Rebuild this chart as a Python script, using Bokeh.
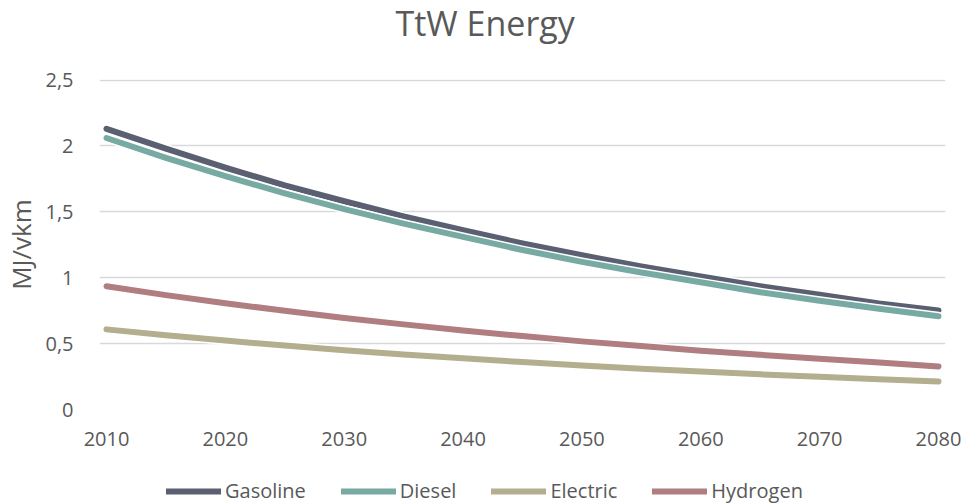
from bokeh.plotting import figure
from bokeh.models import Range1d, FixedTicker, Legend, LegendItem, Title
from bokeh.layouts import column
from bokeh.embed import file_html
from bokeh.resources import INLINE

years = [2010, 2015, 2020, 2025, 2030, 2035, 2040, 2045, 2050, 2055, 2060, 2065, 2070, 2075, 2080]
gasoline = [2.13, 1.98, 1.835, 1.70, 1.58, 1.465, 1.36, 1.26, 1.17, 1.085, 1.01, 0.935, 0.87, 0.805, 0.752]
diesel = [2.06, 1.91, 1.77, 1.64, 1.52, 1.41, 1.31, 1.21, 1.12, 1.04, 0.965, 0.89, 0.825, 0.765, 0.707]
electric = [0.608, 0.563, 0.523, 0.485, 0.45, 0.418, 0.388, 0.36, 0.334, 0.31, 0.288, 0.267, 0.248, 0.23, 0.213]
hydrogen = [0.935, 0.868, 0.806, 0.749, 0.695, 0.646, 0.60, 0.557, 0.517, 0.481, 0.446, 0.415, 0.385, 0.356, 0.327]

series_names = ["Gasoline", "Diesel", "Electric", "Hydrogen"]
series_values = [gasoline, diesel, electric, hydrogen]
series_colors = ["#5b5f72", "#77aaa2", "#b3ae8e", "#b07d80"]

y_ticks = [0, 0.5, 1, 1.5, 2, 2.5]
y_tick_labels = ["0", "0,5", "1", "1,5", "2", "2,5"]
x_ticks = [2010, 2020, 2030, 2040, 2050, 2060, 2070, 2080]

FONT = "Open Sans"
TXT = "#595959"
W = 965
LEG_H = 30

p = figure(width=W, height=504 - LEG_H, output_backend="svg", toolbar_location=None, title=None,
           x_range=Range1d(2009.41, 2080.59), y_range=Range1d(0, 2.504),
           min_border_left=97, min_border_right=20, min_border_top=79, min_border_bottom=504 - LEG_H - 409)
p.outline_line_color = None
p.background_fill_color = "white"
p.border_fill_color = "white"

# spacer between frame and title, then the title itself
title = Title(text="TtW Energy", align="left", offset=296, vertical_align="top",
              text_font=FONT, text_font_size="34px", text_font_style="normal",
              text_color=TXT, standoff=0)
spacer_standoff = 14
try:
    title.standoff = -10
    spacer_standoff = 24
except Exception:
    pass
p.add_layout(Title(text=" ", text_font_size="10px", standoff=spacer_standoff), "above")
p.add_layout(title, "above")

p.xgrid.grid_line_color = None
p.ygrid.grid_line_color = "#d9d9d9"
p.ygrid.grid_line_width = 1.3
p.ygrid.ticker = FixedTicker(ticks=y_ticks)

p.yaxis.ticker = FixedTicker(ticks=y_ticks)
p.yaxis.major_label_overrides = {t: l for t, l in zip(y_ticks, y_tick_labels)}
p.xaxis.ticker = FixedTicker(ticks=x_ticks)
for ax in (p.xaxis, p.yaxis):
    ax.axis_line_color = None
    ax.major_tick_line_color = None
    ax.minor_tick_line_color = None
    ax.major_label_text_font = FONT
    ax.major_label_text_font_size = "20px"
    ax.major_label_text_color = TXT
p.yaxis.major_label_standoff = 20
p.xaxis.major_label_standoff = 16
p.yaxis.axis_label = "MJ/vkm"
p.yaxis.axis_label_text_font = FONT
p.yaxis.axis_label_text_font_size = "26px"
p.yaxis.axis_label_text_font_style = "normal"
p.yaxis.axis_label_text_color = TXT
p.yaxis.axis_label_standoff = 3

for name, vals, col in zip(series_names, series_values, series_colors):
    p.line(years, vals, line_color="white", line_width=9, line_cap="round", line_join="round")
    p.line(years, vals, line_color=col, line_width=6, line_cap="round", line_join="round")

# legend strip below the chart
lg = figure(width=W, height=LEG_H, output_backend="svg", toolbar_location=None, title=None,
            x_range=Range1d(0, 1), y_range=Range1d(0, 1),
            min_border_left=0, min_border_right=0, min_border_top=0, min_border_bottom=0)
lg.axis.visible = False
lg.grid.visible = False
lg.outline_line_color = None
lg.border_fill_color = "white"
items = []
for name, col in zip(series_names, series_colors):
    r = lg.line([5, 6], [5, 6], line_color=col, line_width=6, line_cap="round")
    items.append(LegendItem(label=name, renderers=[r]))
legend = Legend(items=items, orientation="horizontal", location=(67, 0))
legend.glyph_width = 55
legend.glyph_height = 20
legend.label_standoff = 4
legend.spacing = 35
legend.padding = 0
legend.margin = 0
legend.border_line_color = None
legend.background_fill_alpha = 0
legend.label_text_font = FONT
legend.label_text_font_size = "20px"
legend.label_text_color = TXT
lg.add_layout(legend)

layout = column(p, lg, spacing=0)
open("out.html", "w").write(file_html(layout, INLINE))
